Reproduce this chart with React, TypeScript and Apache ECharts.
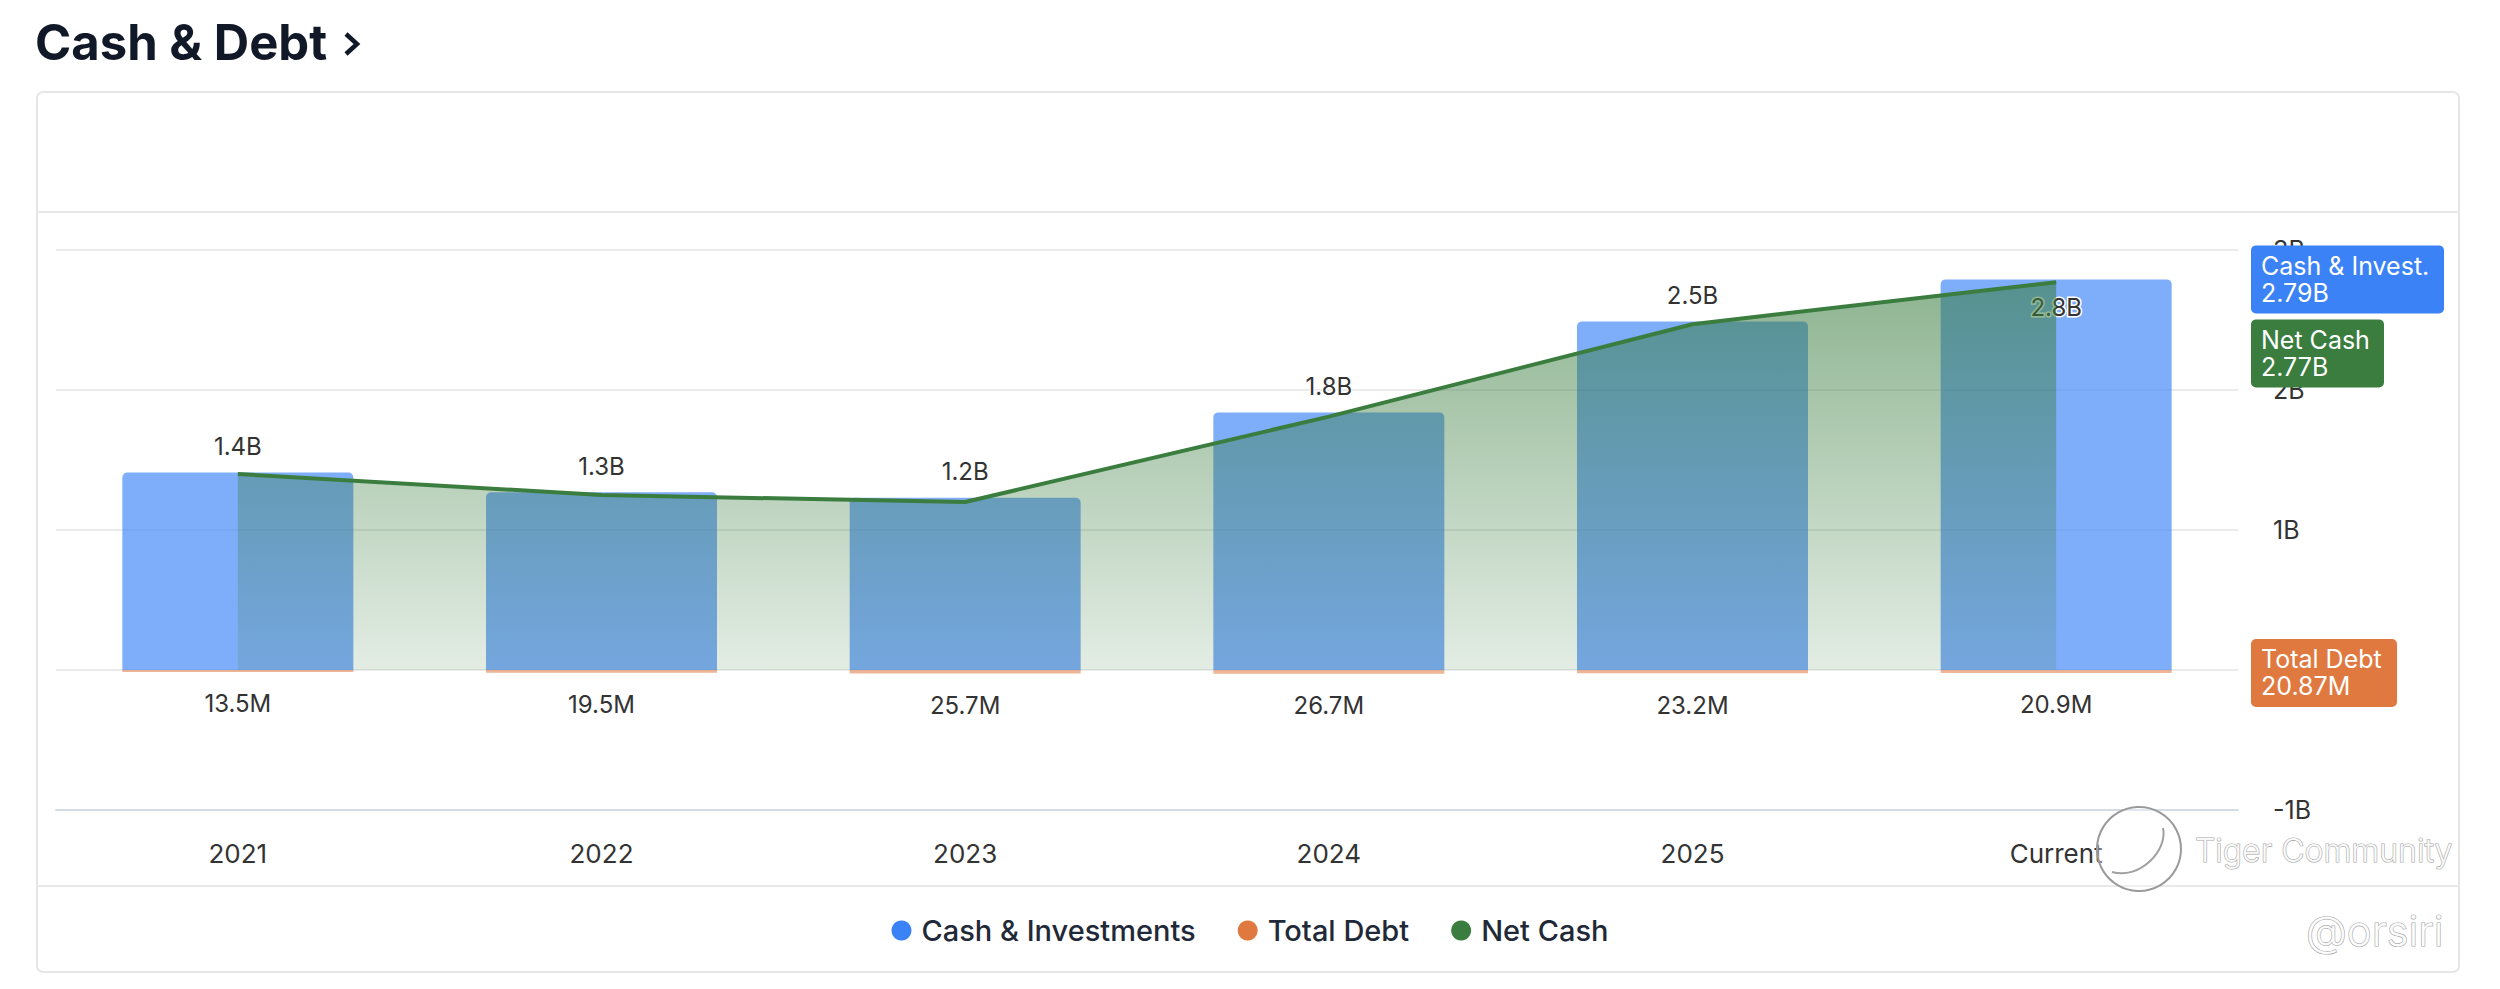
import React, { useEffect, useRef } from 'react';
import * as echarts from 'echarts';

const categories = ['2021', '2022', '2023', '2024', '2025', 'Current'];
const cashInvestments = [1.41e9, 1.27e9, 1.23e9, 1.84e9, 2.49e9, 2.79e9];
const totalDebt = [13.5e6, 19.5e6, 25.7e6, 26.7e6, 23.2e6, 20.87e6];
const netCash = [1.40e9, 1.25e9, 1.20e9, 1.81e9, 2.47e9, 2.77e9];
const yAxisMin = -1e9;
const yAxisMax = 3e9;
const yAxisStep = 1e9;
const seriesNames = ['Cash & Investments', 'Total Debt', 'Net Cash'];
const tagNames = ['Cash & Invest.', 'Net Cash', 'Total Debt'];

const BLUE = '#3b82f6';
const ORANGE = '#e0793f';
const GREEN = '#3a7d3f';
const FONT = 'Inter, "Noto Sans", "DejaVu Sans", sans-serif';

function fmtShort(v: number): string {
  const a = Math.abs(v);
  if (a >= 1e9) return (a / 1e9).toFixed(1) + 'B';
  return (a / 1e6).toFixed(1) + 'M';
}
function fmtTag(v: number): string {
  const a = Math.abs(v);
  if (a >= 1e9) return (a / 1e9).toFixed(2) + 'B';
  return (a / 1e6).toFixed(2) + 'M';
}
function fmtAxis(v: number): string {
  if (v === 0) return '0';
  return v / 1e9 + 'B';
}

export default function App() {
  const ref = useRef<HTMLDivElement>(null);
  useEffect(() => {
    document.body.style.margin = '0';
    const chart = echarts.init(ref.current!, null, { renderer: 'svg' });
    const last = categories.length - 1;
    const grid = { left: 56, right: 262, top: 250, bottom: 179 };

    chart.setOption({
      animation: false,
      backgroundColor: '#ffffff',
      grid,
      legend: {
        top: 911,
        left: 'center',
        icon: 'circle',
        itemWidth: 20,
        itemHeight: 20,
        itemGap: 42,
        textStyle: { fontSize: 29, fontWeight: 500, color: '#1f2937', fontFamily: FONT, padding: [0, 0, 0, 5] },
        data: [
          { name: seriesNames[0], itemStyle: { color: BLUE } },
          { name: seriesNames[1], itemStyle: { color: ORANGE } },
          { name: seriesNames[2], itemStyle: { color: GREEN } },
        ],
      },
      xAxis: {
        type: 'category',
        data: categories,
        boundaryGap: true,
        axisTick: { show: false },
        axisLine: { show: true, onZero: false, lineStyle: { color: '#d3dce6', width: 2 } },
        axisLabel: { margin: 30, fontSize: 26, color: '#333333', fontFamily: FONT },
        splitLine: { show: false },
      },
      yAxis: {
        type: 'value',
        position: 'right',
        min: yAxisMin,
        max: yAxisMax,
        interval: yAxisStep,
        axisLine: { show: false },
        axisTick: { show: false },
        axisLabel: { margin: 35, fontSize: 25, color: '#333333', fontFamily: FONT, formatter: fmtAxis },
        splitLine: { lineStyle: { color: '#ebebeb', width: 2 } },
      },
      series: [
        {
          name: seriesNames[0],
          type: 'bar',
          barWidth: 231,
          barGap: '-100%',
          itemStyle: { color: 'rgba(59,130,246,0.66)', borderRadius: [5, 5, 0, 0] },
          label: {
            show: true,
            position: 'top',
            distance: 14,
            fontSize: 24,
            color: '#333333',
            fontFamily: FONT,
            textBorderColor: '#ffffff',
            textBorderWidth: 3,
            formatter: (p: any) => fmtShort(p.value),
          },
          data: cashInvestments.map((v, i) =>
            i === last ? { value: v, label: { position: 'insideTop', distance: 16 } } : v
          ),
          z: 2,
        },
        {
          name: seriesNames[1],
          type: 'bar',
          barWidth: 231,
          barGap: '-100%',
          itemStyle: { color: 'rgba(224,121,63,0.55)' },
          label: {
            show: true,
            position: 'bottom',
            distance: 20,
            fontSize: 24,
            color: '#333333',
            fontFamily: FONT,
            formatter: (p: any) => fmtShort(p.value),
          },
          data: totalDebt.map((v) => -v),
          z: 2,
        },
        {
          name: seriesNames[2],
          type: 'line',
          symbol: 'none',
          lineStyle: { color: GREEN, width: 4 },
          itemStyle: { color: GREEN },
          areaStyle: {
            color: new echarts.graphic.LinearGradient(0, 0, 0, 1, [
              { offset: 0, color: 'rgba(58,125,63,0.82)' },
              { offset: 1, color: 'rgba(58,125,63,0.2)' },
            ]),
          },
          data: netCash,
          z: 3,
        },
      ],
    });

    const yPx = (v: number) => (chart.convertToPixel({ gridIndex: 0 }, [0, v]) as number[])[1];
    const tagX = 2500 - grid.right + 13;
    const tagH = 68;
    const cashY = yPx(cashInvestments[last]) - tagH / 2;
    const netY = cashY + tagH + 6;
    const debtY = yPx(-totalDebt[last]) - tagH / 2;

    const tag = (y: number, w: number, color: string, label: string, value: string) => ({
      type: 'group',
      z: 100,
      children: [
        { type: 'rect', shape: { x: tagX, y, width: w, height: tagH, r: 5 }, style: { fill: color }, z: 100 },
        {
          type: 'text',
          z: 101,
          style: {
            text: label + '\n' + value,
            x: tagX + 10,
            y: y + tagH / 2,
            fill: '#ffffff',
            font: '400 25px ' + FONT,
            lineHeight: 27,
            textVerticalAlign: 'middle',
          },
        },
      ],
    });

    chart.setOption({
      graphic: [
        {
          type: 'rect',
          z: -1,
          shape: { x: 37, y: 92, width: 2422, height: 880, r: 6 },
          style: { fill: 'none', stroke: '#e6e6e6', lineWidth: 2 },
        },
        { type: 'line', z: -1, shape: { x1: 37, y1: 212, x2: 2459, y2: 212 }, style: { stroke: '#e8e8e8', lineWidth: 2 } },
        { type: 'line', z: -1, shape: { x1: 37, y1: 886, x2: 2459, y2: 886 }, style: { stroke: '#e8e8e8', lineWidth: 2 } },
        {
          type: 'text',
          style: { text: 'Cash & Debt', x: 35, y: 42, font: '700 49px ' + FONT, fill: '#111827', textVerticalAlign: 'middle' },
        },
        {
          type: 'polyline',
          shape: { points: [[346, 34], [357, 44], [346, 54]] },
          style: { stroke: '#111827', lineWidth: 4.5, fill: 'none' },
        },
        tag(cashY, 193, BLUE, tagNames[0], fmtTag(cashInvestments[last])),
        tag(netY, 133, GREEN, tagNames[1], fmtTag(netCash[last])),
        tag(debtY, 146, ORANGE, tagNames[2], fmtTag(totalDebt[last])),
        {
          type: 'circle',
          z: 110,
          shape: { cx: 2139, cy: 849, r: 42 },
          style: { fill: 'rgba(255,255,255,0.35)', stroke: '#9a9a9a', lineWidth: 2 },
        },
        {
          type: 'bezierCurve',
          z: 111,
          shape: { x1: 2112, y1: 872, x2: 2163, y2: 828, cpx1: 2140, cpy1: 880, cpx2: 2168, cpy2: 850 },
          style: { stroke: '#a0a0a0', lineWidth: 2, fill: 'none' },
        },
        {
          type: 'text',
          z: 110,
          style: {
            text: 'Tiger Community',
            x: 2195,
            y: 850,
            font: '300 32px ' + FONT,
            fill: 'rgba(255,255,255,0.9)',
            stroke: '#a8a8a8',
            lineWidth: 1.2,
            textVerticalAlign: 'middle',
          },
        },
        {
          type: 'text',
          z: 110,
          style: {
            text: '@orsiri',
            x: 2306,
            y: 930,
            font: '300 42px ' + FONT,
            fill: 'rgba(255,255,255,0.9)',
            stroke: '#a8a8a8',
            lineWidth: 1.2,
            textVerticalAlign: 'middle',
          },
        },
      ],
    });

    return () => chart.dispose();
  }, []);
  return <div ref={ref} style={{ width: 2500, height: 989 }} />;
}
